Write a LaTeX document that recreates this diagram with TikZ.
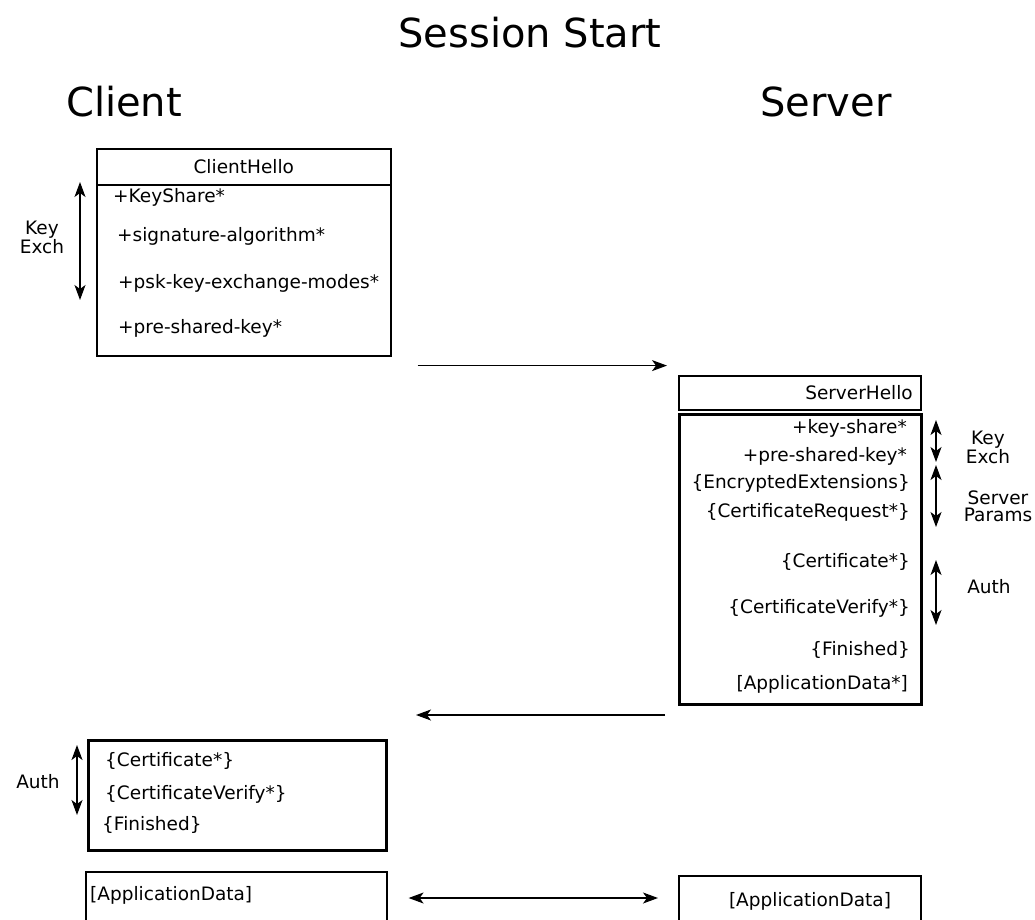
\documentclass[tikz,border=0pt]{standalone}
\usepackage{fontspec}
\setmainfont{DejaVu Sans}
\usetikzlibrary{arrows.meta,positioning,calc}

\begin{document}
\begin{tikzpicture}[
    x=1pt, y=-1pt,
    box/.style={rectangle, draw, line width=1.6pt, anchor=north west, inner sep=0pt, font=\fontsize{18.5}{22}\selectfont},
    heavybox/.style={box, line width=3pt},
    item/.style={inner sep=0pt, font=\fontsize{18.5}{22}\selectfont},
    side/.style={inner sep=0pt, align=center, font=\fontsize{18.5}{17}\selectfont},
    big/.style={inner sep=0pt, font=\fontsize{40}{48}\selectfont},
    arrow/.style={-{Stealth[length=15pt,width=11pt,inset=4pt]}, line width=1.2pt},
    span/.style={{Stealth[length=15pt,width=11pt,inset=4pt]}-{Stealth[length=15pt,width=11pt,inset=4pt]}, line width=1.2pt}
]
\clip (0,0) rectangle (1035,920);

% Titles
\node[big] (title) at (530,33) {Session Start};
\node[big] (client) at (124,102) {Client};
\node[big] (server) at (826,102) {Server};

% ClientHello
\node[box, minimum width=294pt, minimum height=36pt] (chead) at (96,148) {ClientHello};
\node[box, minimum width=294pt, minimum height=171pt] (cbody) at (96,184) {};
\node[item, anchor=west] (ks) at (113,197) {+KeyShare*};
\node[item, anchor=west] (sig) at (117,236) {+signature-algorithm*};
\node[item, anchor=west] (psk) at (118,283) {+psk-key-exchange-modes*};
\node[item, anchor=west] (pre) at (118,328) {+pre-shared-key*};
\draw[span] ($(cbody.north west)+(-16,-2)$) -- ($(cbody.north west)+(-16,116)$);
\node[side] (ckey) at (42,237) {Key\\Exch};

% ServerHello
\node[box, minimum width=242pt, minimum height=34pt] (shead) at (678,375) {};
\node[item, anchor=east] at (913,393) {ServerHello};
\node[heavybox, minimum width=242pt, minimum height=290pt] (sbody) at (678,413) {};
\node[item, anchor=east] (sks) at (907,428) {+key-share*};
\node[item, anchor=east] (spre) at (907,456) {+pre-shared-key*};
\node[item, anchor=east] (senc) at (910,483) {\{EncryptedExtensions\}};
\node[item, anchor=east] (sreq) at (910,512) {\{CertificateRequest*\}};
\node[item, anchor=east] (scert) at (910,562) {\{Certificate*\}};
\node[item, anchor=east] (sver) at (910,608) {\{CertificateVerify*\}};
\node[item, anchor=east] (sfin) at (910,650) {\{Finished\}};
\node[item, anchor=east] (sapd) at (908,684) {[ApplicationData*]};

% Server side groups
\draw[span] ($(sbody.north east)+(13,7)$) -- ($(sbody.north east)+(13,49)$);
\draw[span] ($(sbody.north east)+(13,52)$) -- ($(sbody.north east)+(13,114)$);
\draw[span] ($(sbody.north east)+(13,147)$) -- ($(sbody.north east)+(13,212)$);
\node[side] (skey) at (988,447) {Key\\Exch};
\node[side] (sparam) at (998,506) {Server\\Params};
\node[side] (sauth) at (989,587) {Auth};

% Client auth
\node[heavybox, minimum width=298pt, minimum height=110pt] (cauth) at (87,739) {};
\node[item, anchor=west] (ccert) at (105,761) {\{Certificate*\}};
\node[item, anchor=west] (cver) at (105,794) {\{CertificateVerify*\}};
\node[item, anchor=west] (cfin) at (102,825) {\{Finished\}};
\draw[span] ($(cauth.north west)+(-10,6)$) -- ($(cauth.north west)+(-10,76)$);
\node[side] (cauthl) at (38,782) {Auth};

% Application data
\node[box, minimum width=301pt, minimum height=60pt] (capp) at (85,871) {};
\node[item, anchor=west] (cdata) at (90,895) {[ApplicationData]};
\node[box, minimum width=242pt, minimum height=60pt] (sapp) at (678,875) {};
\node[item] (sdata) at (810,901) {[ApplicationData]};

% Messages
\coordinate (req) at ($(cbody.south east)+(26,9)$);
\coordinate (resp) at ($(sbody.south west)+(-13,9)$);
\coordinate (data) at ($(capp.north east)+(21,27)$);
\draw[arrow] (req) -- (req -| {$(shead.north west)+(-11,0)$});
\draw[arrow] (resp) -- (resp -| {$(cauth.north east)+(28,0)$});
\draw[span] (data) -- (data -| {$(sapp.north west)+(-20,0)$});

\end{tikzpicture}
\end{document}
